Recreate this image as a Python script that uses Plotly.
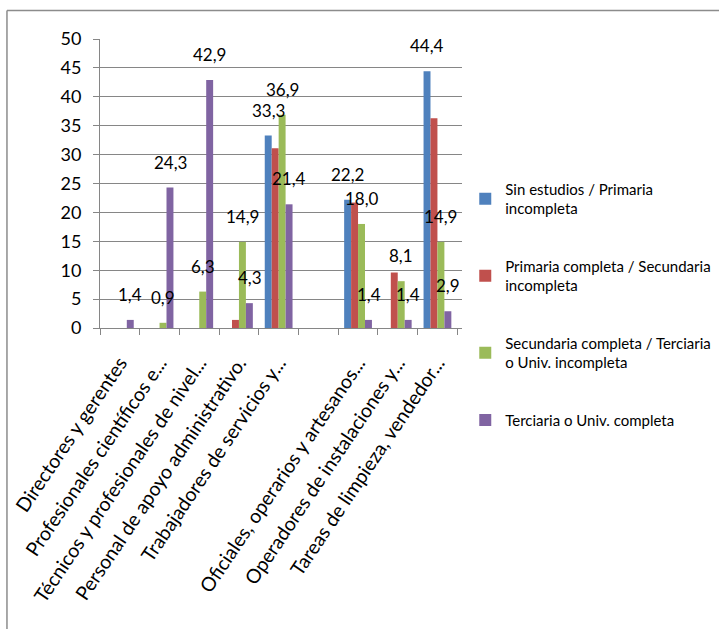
import plotly.graph_objects as go

categories = [
    "Directores y gerentes",
    "Profesionales científicos e...",
    "Técnicos y profesionales de nivel...",
    "Personal de apoyo administrativo.",
    "Trabajadores de servicios y...",
    " ",
    "Oficiales, operarios y artesanos...",
    "Operadores de instalaciones y...",
    "Tareas de limpieza, vendedor...",
]

series_names = [
    "Sin estudios / Primaria<br>incompleta",
    "Primaria completa / Secundaria<br>incompleta",
    "Secundaria completa / Terciaria<br>o Univ. incompleta",
    "Terciaria o Univ. completa",
]

sin_estudios = [0, 0, 0, 0, 33.3, 0, 22.2, 0, 44.4]
primaria_completa = [0, 0, 0, 1.4, 31.1, 0, 21.7, 9.6, 36.3]
secundaria_completa = [0, 0.9, 6.3, 14.9, 36.9, 0, 18.0, 8.1, 14.9]
terciaria_completa = [1.4, 24.3, 42.9, 4.3, 21.4, 0, 1.4, 1.4, 2.9]

series_values = [sin_estudios, primaria_completa, secundaria_completa, terciaria_completa]
show_labels = [True, False, True, True]

colors = ["#4F81BD", "#C0504D", "#9BBB59", "#8064A2"]
FONT = "Lato, Roboto, sans-serif"

fig = go.Figure()
for name, vals, col in zip(series_names, series_values, colors):
    fig.add_trace(go.Bar(
        x=categories, y=vals, name=name,
        marker=dict(color=col, line=dict(width=0)),
        legendgroup=name,
    ))

# value labels above bars (bar width = group width * 0.7 / 4)
group_px = 362 / len(categories)
bar_px = group_px * 0.7 / 4
annotations = []
for i, (vals, show) in enumerate(zip(series_values, show_labels)):
    if not show:
        continue
    offset = (i - 1.5) * bar_px
    for cat, v in zip(categories, vals):
        if v <= 0:
            continue
        annotations.append(dict(
            x=cat, y=v, xref="x", yref="y",
            text=f"{v:.1f}".replace(".", ","),
            showarrow=False, xanchor="center", yanchor="bottom",
            xshift=offset, yshift=13,
            font=dict(family=FONT, size=17, color="#000000"),
        ))

fig.update_layout(
    width=719, height=629,
    margin=dict(l=100, r=257, t=39, b=301, autoexpand=False),
    paper_bgcolor="white", plot_bgcolor="white",
    barmode="group", bargap=0.3, bargroupgap=0,
    font=dict(family=FONT, size=17, color="#000000"),
    showlegend=True,
    legend=dict(
        x=1.009, y=0.537, xanchor="left", yanchor="top",
        font=dict(family=FONT, size=15, color="#000000"),
        traceorder="grouped", tracegroupgap=35,
        itemwidth=30, bgcolor="rgba(0,0,0,0)",
    ),
    annotations=annotations,
    shapes=[
        # outer chart frame (top and left edges visible)
        dict(type="line", xref="paper", yref="paper",
             x0=-0.257, x1=1.8, y0=1.0986, y1=1.0986,
             line=dict(color="#8C8C8C", width=1.5)),
        dict(type="line", xref="paper", yref="paper",
             x0=-0.257, x1=-0.257, y0=1.0986, y1=-1.2,
             line=dict(color="#8C8C8C", width=1.5)),
    ],
)

fig.update_xaxes(
    type="category", tickangle=-56,
    showline=True, linecolor="#868686", linewidth=1,
    ticks="outside", ticklen=6, tickcolor="#868686", tickson="boundaries",
    showgrid=False, ticklabelstandoff=15,
    tickfont=dict(family=FONT, size=19.5, color="#000000"),
)
fig.update_yaxes(
    range=[0, 50], dtick=5, tick0=0,
    showline=True, linecolor="#868686", linewidth=1,
    ticks="outside", ticklen=6, tickcolor="#868686",
    showgrid=True, gridcolor="#868686", gridwidth=1,
    zeroline=False, ticklabelstandoff=8,
    tickfont=dict(family=FONT, size=18, color="#000000"),
)

fig.write_html("out.html")
